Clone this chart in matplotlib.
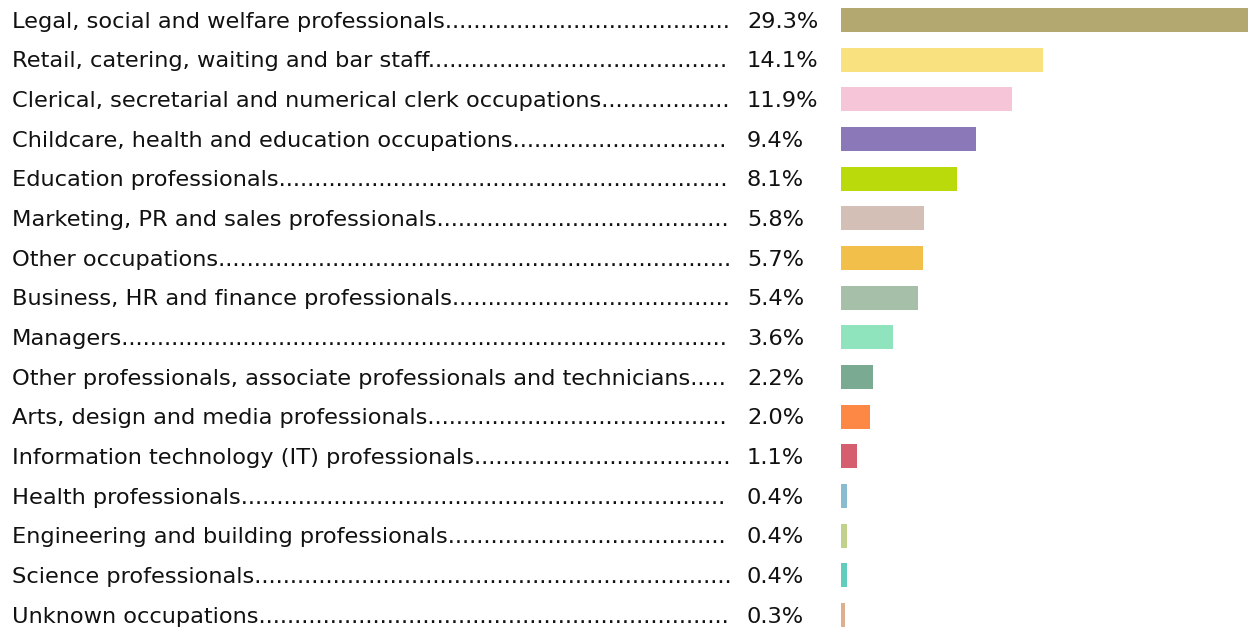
import matplotlib.pyplot as plt
import matplotlib.transforms as mtransforms

occupations = [
    "Legal, social and welfare professionals",
    "Retail, catering, waiting and bar staff",
    "Clerical, secretarial and numerical clerk occupations",
    "Childcare, health and education occupations",
    "Education professionals",
    "Marketing, PR and sales professionals",
    "Other occupations",
    "Business, HR and finance professionals",
    "Managers",
    "Other professionals, associate professionals and technicians",
    "Arts, design and media professionals",
    "Information technology (IT) professionals",
    "Health professionals",
    "Engineering and building professionals",
    "Science professionals",
    "Unknown occupations",
]
shares = [29.3, 14.1, 11.9, 9.4, 8.1, 5.8, 5.7, 5.4, 3.6, 2.2, 2.0, 1.1, 0.4, 0.4, 0.4, 0.3]
colors = ["#B3A86F", "#F9E17F", "#F7C5D8", "#8B78B8", "#BBDA0C", "#D4BFB7",
          "#F2BF4A", "#A6BFA9", "#8FE3BD", "#7BAA92", "#FD8744", "#D55F6E",
          "#8ABCD1", "#C1D18B", "#63CDBD", "#DEAE90"]

W, H = 1248, 632
fig = plt.figure(figsize=(W / 100, H / 100), dpi=100)
ax = fig.add_axes([841 / W, 0, 1 - 841 / W, 1])

rows = list(range(len(occupations)))
ax.barh(rows, shares, height=0.605, color=colors)
ax.set_xlim(0, (W - 841) / 14.35)
ax.set_ylim((H - 20) / 39.67, -20 / 39.67)
ax.axis("off")

trans = mtransforms.blended_transform_factory(fig.transFigure, ax.transData)
renderer = fig.canvas.get_renderer()
font = dict(family=["DejaVu Sans"], fontsize=16.2, color="#111111")
max_w = 732 - 12

for i, (name, val) in enumerate(zip(occupations, shares)):
    t = ax.text(12 / W, i + 0.04, name, transform=trans, va="center", ha="left", **font)
    s = name
    while True:
        t.set_text(s + ".")
        if t.get_window_extent(renderer).width > max_w:
            break
        s += "."
    t.set_text(s)
    ax.text(747 / W, i + 0.04, f"{val:.1f}%", transform=trans, va="center", ha="left", **font)

fig.savefig("out.png", dpi=100)
